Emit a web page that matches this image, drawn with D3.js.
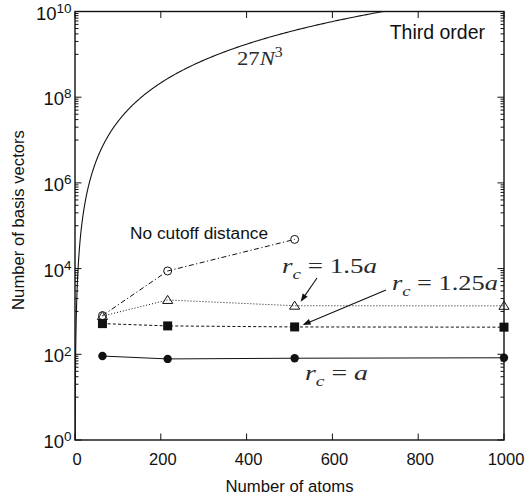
<!DOCTYPE html>
<html>
<head>
<meta charset="utf-8">
<script src="https://cdn.jsdelivr.net/npm/d3@7"></script>
<style>
  html, body { margin: 0; padding: 0; background: #fff; }
  svg { display: block; }
</style>
</head>
<body>
<svg id="chart" width="528" height="500"></svg>
<script>
// Supercell sizes (number of atoms) and basis-vector counts for each cutoff
const atoms = [64, 216, 512, 1000];
const noCutoff = [800, 8800, 48000];
const rc150 = [780, 1850, 1360, 1350];
const rc125 = [520, 460, 435, 430];
const rc100 = [91, 78, 81, 83];

const xTicks = [0, 200, 400, 600, 800, 1000];
const yPowers = [0, 2, 4, 6, 8, 10];

const svg = d3.select("#chart");
const L = 75, R = 504, T = 11.5, B = 440;
const x = d3.scaleLinear().domain([0, 1000]).range([L, R]);
const y = d3.scaleLog().domain([1, 1e10]).range([B, T]);

const sans = "'Liberation Sans', Arial, Helvetica, sans-serif";
const serif = "'Liberation Serif', 'Times New Roman', serif";
const ink = "#111";

svg.append("defs").append("clipPath").attr("id", "plotclip")
  .append("rect").attr("x", L).attr("y", T).attr("width", R - L).attr("height", B - T);

// Ticks (inward, mirrored on all four sides)
const ticks = svg.append("g").attr("stroke", ink).attr("stroke-width", 1);
const majorLen = 6.5, minorLen = 3.5;
xTicks.forEach(v => {
  ticks.append("line").attr("x1", x(v)).attr("x2", x(v)).attr("y1", B).attr("y2", B - majorLen);
  ticks.append("line").attr("x1", x(v)).attr("x2", x(v)).attr("y1", T).attr("y2", T + majorLen);
});
yPowers.forEach(p => {
  const v = Math.pow(10, p);
  ticks.append("line").attr("x1", L).attr("x2", L + majorLen).attr("y1", y(v)).attr("y2", y(v));
  ticks.append("line").attr("x1", R).attr("x2", R - majorLen).attr("y1", y(v)).attr("y2", y(v));
});
const minorVals = [];
yPowers.slice(0, -1).forEach(p => {
  for (let m = 1; m <= 9; m++) minorVals.push(Math.pow(10, p + 1) * m);
});
minorVals.forEach(v => {
  ticks.append("line").attr("x1", L).attr("x2", L + minorLen).attr("y1", y(v)).attr("y2", y(v));
  ticks.append("line").attr("x1", R).attr("x2", R - minorLen).attr("y1", y(v)).attr("y2", y(v));
});

// Tick labels
const xl = svg.append("g").attr("font-family", sans).attr("fill", ink);
xTicks.forEach(v => {
  xl.append("text").attr("x", x(v) + 2).attr("y", B + 25).attr("text-anchor", "middle")
    .attr("font-size", 16.5).text(v);
});
yPowers.forEach(p => {
  const t = xl.append("text").attr("x", L - 3.5).attr("y", y(Math.pow(10, p)) + 8)
    .attr("text-anchor", "end").attr("font-size", 18.5);
  t.append("tspan").text("10");
  t.append("tspan").attr("dy", -6.8).attr("font-size", 13.5).text(p);
});

// Axis titles
svg.append("text").attr("x", (L + R) / 2).attr("y", 492).attr("text-anchor", "middle")
  .attr("font-family", sans).attr("font-size", 16.7).attr("fill", ink).text("Number of atoms");
svg.append("text").attr("transform", "translate(24,220) rotate(-90)").attr("text-anchor", "middle")
  .attr("font-family", sans).attr("font-size", 16.7).attr("fill", ink).text("Number of basis vectors");

// Third-order growth curve 27 N^3
const plot = svg.append("g").attr("clip-path", "url(#plotclip)");
const curveN = [];
for (let e = Math.log10(0.3); e < Math.log10(1000); e += 0.005) curveN.push(Math.pow(10, e));
plot.append("path")
  .datum(curveN.filter(n => 27 * n * n * n >= 0.9 && 27 * n * n * n <= 2e10))
  .attr("fill", "none").attr("stroke", ink).attr("stroke-width", 1.1)
  .attr("d", d3.line().x(n => x(n)).y(n => y(Math.max(27 * n * n * n, 1e-1))));

// Series lines
const series = [
  { vals: noCutoff, dash: "5,2.5,1.2,2.5", marker: "ocircle" },
  { vals: rc150, dash: "1,2", marker: "otri" },
  { vals: rc125, dash: "3,2.2", marker: "fsquare" },
  { vals: rc100, dash: null, marker: "fcircle" }
];
const line = d3.line().x(d => x(d[0])).y(d => y(d[1]));
series.forEach(s => {
  const pts = s.vals.map((v, i) => [atoms[i], v]);
  plot.append("path").datum(pts).attr("fill", "none").attr("stroke", ink)
    .attr("stroke-width", 1).attr("stroke-dasharray", s.dash).attr("d", line);
});
series.forEach(s => {
  const pts = s.vals.map((v, i) => [atoms[i], v]);
  const g = svg.append("g");
  pts.forEach(p => {
    const cx = x(p[0]), cy = y(p[1]);
    if (s.marker === "ocircle") {
      g.append("circle").attr("cx", cx).attr("cy", cy).attr("r", 4).attr("fill", "none").attr("stroke", ink).attr("stroke-width", 1);
    } else if (s.marker === "otri") {
      const h = 4.6;
      g.append("path").attr("d", `M${cx},${cy - h}L${cx + h * 1.1},${cy + h * 0.75}L${cx - h * 1.1},${cy + h * 0.75}Z`)
        .attr("fill", "none").attr("stroke", ink).attr("stroke-width", 1);
    } else if (s.marker === "fsquare") {
      g.append("rect").attr("x", cx - 4.5).attr("y", cy - 4.5).attr("width", 9).attr("height", 9).attr("fill", ink);
    } else {
      g.append("circle").attr("cx", cx).attr("cy", cy).attr("r", 4.2).attr("fill", ink);
    }
  });
});

// Frame
svg.append("rect").attr("x", L).attr("y", T).attr("width", R - L).attr("height", B - T)
  .attr("fill", "none").attr("stroke", ink).attr("stroke-width", 1.4);

// Plain text annotations
svg.append("text").attr("x", 485).attr("y", 39).attr("text-anchor", "end")
  .attr("font-family", sans).attr("font-size", 19.5).attr("fill", ink).text("Third order");
svg.append("text").attr("x", 130).attr("y", 239)
  .attr("font-family", sans).attr("font-size", 17.3).attr("fill", ink).text("No cutoff distance");

// Math-style labels, stretched to a given width
function mathLabel(parts, left, base, width, size) {
  const g = svg.append("g");
  const t = g.append("text").attr("x", 0).attr("y", 0).attr("font-family", serif)
    .attr("font-size", size).attr("fill", "#2a2a2a");
  let shift = 0;
  parts.forEach(p => {
    const ts = t.append("tspan").text(p.t);
    if (p.i) ts.attr("font-style", "italic");
    const target = p.sub ? size * 0.3 : p.sup ? -size * 0.42 : 0;
    if (target !== shift) { ts.attr("dy", target - shift); shift = target; }
    if (p.sub || p.sup) ts.attr("font-size", size * 0.7);
  });
  const w = t.node().getBBox().width;
  g.attr("transform", `translate(${left},${base}) scale(${width / w},1)`);
}
mathLabel([{ t: "27" }, { t: "N", i: true }, { t: "3", sup: true }], 237, 65, 46, 19.5);
mathLabel([{ t: "r", i: true }, { t: "c", i: true, sub: true }, { t: " = 1.5" }, { t: "a", i: true }], 282, 273, 95, 20);
mathLabel([{ t: "r", i: true }, { t: "c", i: true, sub: true }, { t: " = 1.25" }, { t: "a", i: true }], 392, 290, 106, 20);
mathLabel([{ t: "r", i: true }, { t: "c", i: true, sub: true }, { t: " = " }, { t: "a", i: true }], 305, 380, 63, 20);

// Arrows from labels to points
function arrow(x1, y1, x2, y2) {
  const ang = Math.atan2(y2 - y1, x2 - x1), len = 8, hw = 3;
  svg.append("line").attr("x1", x1).attr("y1", y1).attr("x2", x2 - Math.cos(ang) * 2).attr("y2", y2 - Math.sin(ang) * 2)
    .attr("stroke", ink).attr("stroke-width", 1.1);
  const bx = x2 - Math.cos(ang) * len, by = y2 - Math.sin(ang) * len;
  svg.append("path").attr("d",
    `M${x2},${y2}L${bx - Math.sin(ang) * hw},${by + Math.cos(ang) * hw}L${bx + Math.sin(ang) * hw},${by - Math.cos(ang) * hw}Z`)
    .attr("fill", ink);
}
arrow(317, 278, x(512) + 6, y(rc150[2]) - 4);
arrow(386, 290, x(512) + 8, y(rc125[2]) - 2);
</script>
</body>
</html>
